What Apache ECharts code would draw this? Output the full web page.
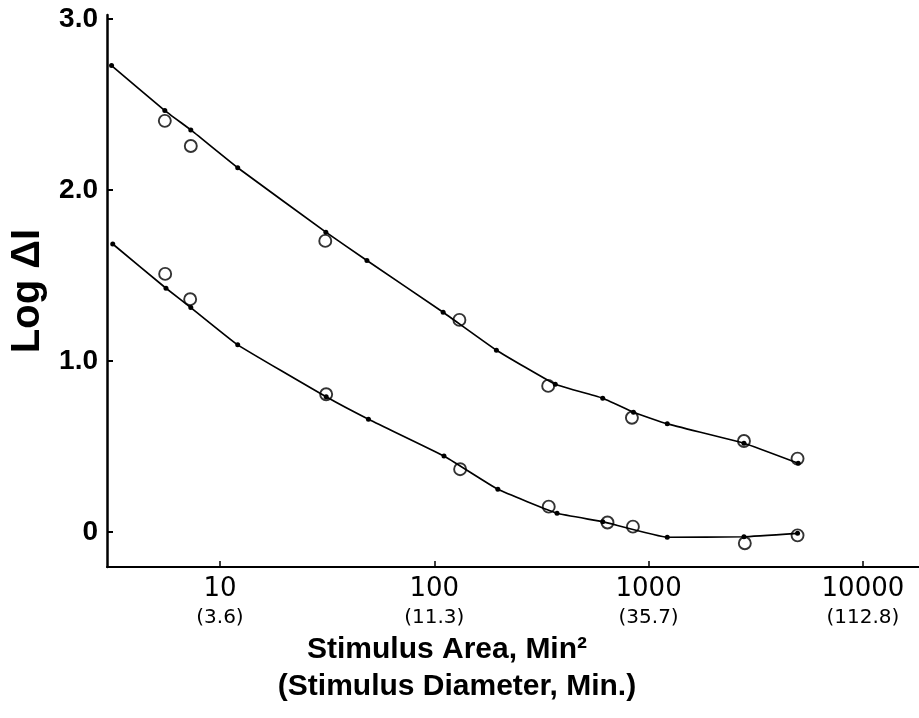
<!DOCTYPE html>
<html><head><meta charset="utf-8">
<script src="https://cdn.jsdelivr.net/npm/echarts@6/dist/echarts.min.js"></script>
<style>html,body{margin:0;background:#fff}#c{width:919px;height:718px}</style>
</head><body><div id="c"></div>
<script>
// Axis ticks
const xTickValues = [10, 100, 1000, 10000];
const xTickDiameters = ['(3.6)', '(11.3)', '(35.7)', '(112.8)'];
const yTickValues = [0, 1, 2, 3];

// Upper curve (filled dots joined by line)
const upperDotArea = [3.12, 5.53, 7.31, 12.1, 31.2, 48.5, 110, 195, 367, 611, 850, 1222, 2786, 4990];
const upperDotLog  = [2.727, 2.464, 2.351, 2.130, 1.753, 1.587, 1.285, 1.063, 0.864, 0.782, 0.700, 0.632, 0.519, 0.402];
// Upper open circles
const upperCircArea = [5.53, 7.31, 31.0, 131, 340, 836, 2786, 4955];
const upperCircLog  = [2.404, 2.257, 1.702, 1.240, 0.854, 0.668, 0.532, 0.429];

// Lower curve (filled dots joined by line)
const lowerDotArea = [3.16, 5.60, 7.31, 12.1, 31.3, 49.3, 111, 198, 374, 611, 1222, 2786, 4955];
const lowerDotLog  = [1.684, 1.425, 1.312, 1.094, 0.790, 0.659, 0.444, 0.249, 0.109, 0.060, -0.031, -0.028, -0.008];
// Lower open circles
const lowerCircArea = [5.55, 7.26, 31.3, 132, 342, 643, 845, 2812, 4955];
const lowerCircLog  = [1.509, 1.361, 0.805, 0.367, 0.148, 0.055, 0.031, -0.066, -0.020];

const pairs = (xs, ys) => xs.map((x, i) => [x, ys[i]]);
const FONT = "'Liberation Sans', Arial, Helvetica, sans-serif";
const TICKFONT = "'DejaVu Sans', 'Liberation Sans', sans-serif";

const chart = echarts.init(document.getElementById('c'), null, {renderer: 'canvas'});

const lineSeries = (xs, ys) => ({
  type: 'line', data: pairs(xs, ys), smooth: 0.1,
  symbol: 'circle', symbolSize: 5, showSymbol: true,
  lineStyle: {color: '#000', width: 1.7},
  itemStyle: {color: '#000'}, z: 3
});
const circSeries = (xs, ys) => ({
  type: 'scatter', data: pairs(xs, ys), symbol: 'circle', symbolSize: 12,
  itemStyle: {color: 'rgba(0,0,0,0)', borderColor: '#000', borderWidth: 1.9}, z: 4
});

const diamOf = {};
xTickValues.forEach((v, i) => diamOf[v] = xTickDiameters[i]);

chart.setOption({
  animation: false,
  backgroundColor: '#fff',
  grid: {left: 107, right: 0, top: 15, bottom: 151, outerBoundsMode: 'none', containLabel: false},
  xAxis: {
    type: 'log', logBase: 10, min: 2.971, max: 18270,
    axisLine: {show: true, onZero: false, lineStyle: {color: '#000', width: 2}},
    axisTick: {show: true, inside: true, length: 6, lineStyle: {color: '#000', width: 1.5}},
    minorTick: {show: false},
    splitLine: {show: false},
    axisLabel: {
      showMinLabel: false, showMaxLabel: false, margin: 6,
      formatter: function (v) {
        const r = Math.round(v);
        if (!(r in diamOf)) return '';
        return '{a|' + r + '}\n{b|' + diamOf[r] + '}';
      },
      rich: {
        a: {fontFamily: TICKFONT, fontSize: 26, color: '#000', lineHeight: 32},
        b: {fontFamily: TICKFONT, fontSize: 20, color: '#000', lineHeight: 26}
      }
    }
  },
  yAxis: {
    type: 'value', min: -0.205, max: 3.023,
    name: 'Log ΔI', nameLocation: 'middle', nameRotate: 90, nameGap: 58,
    nameTextStyle: {fontFamily: FONT, fontSize: 40, fontWeight: 'bold', color: '#000'},
    axisLine: {show: true, onZero: false, lineStyle: {color: '#000', width: 2.5}},
    axisTick: {show: true, inside: true, length: 6, customValues: yTickValues, lineStyle: {color: '#000', width: 2}},
    splitLine: {show: false},
    axisLabel: {
      customValues: yTickValues, margin: 9,
      fontFamily: FONT, fontSize: 28, fontWeight: 'bold', color: '#000',
      formatter: v => v === 0 ? '0' : v.toFixed(1)
    }
  },
  graphic: [
    {type: 'text', x: 447, y: 650, style: {text: 'Stimulus Area, Min²', font: 'bold 30px ' + FONT, fill: '#000', align: 'center', verticalAlign: 'middle'}},
    {type: 'text', x: 457, y: 687, style: {text: '(Stimulus Diameter, Min.)', font: 'bold 30px ' + FONT, fill: '#000', align: 'center', verticalAlign: 'middle'}}
  ],
  series: [
    lineSeries(upperDotArea, upperDotLog),
    lineSeries(lowerDotArea, lowerDotLog),
    circSeries(upperCircArea, upperCircLog),
    circSeries(lowerCircArea, lowerCircLog)
  ]
});
</script>
</body></html>
